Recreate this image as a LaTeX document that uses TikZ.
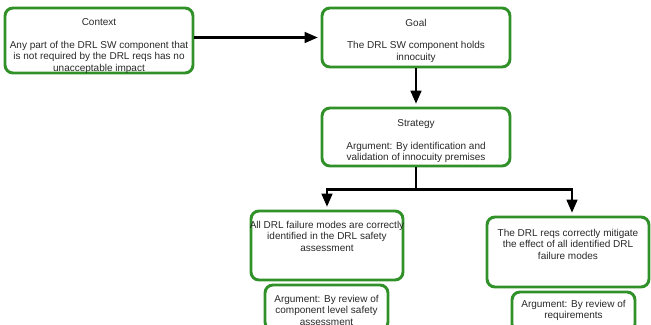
\documentclass[tikz,border=0pt]{standalone}
\usepackage{fontspec}
\setmainfont{Liberation Sans}
\usetikzlibrary{arrows.meta, positioning}
\definecolor{gsngreen}{RGB}{48,145,40}
\definecolor{gsntext}{RGB}{40,40,40}

\begin{document}
\begin{tikzpicture}[x=0.75pt, y=0.75pt,
  box/.style={draw=gsngreen, line width=2.2pt, rounded corners=6pt, inner sep=0pt},
  txt/.style={align=center, inner sep=0pt, text=gsntext, font=\fontsize{7.5}{8.5}\selectfont},
  arr/.style={draw, line width=2pt, -{Triangle[length=10pt, width=8pt]}, shorten >=2pt}]
  \useasboundingbox (0,0) rectangle (651,-325);
  % the boxes
  \node[box, minimum width=141pt, minimum height=48.75pt] (ctx) at (99,-40.5) {};
  \node[box, minimum width=141pt, minimum height=44.25pt] (goal) at (416,-37.5) {};
  \node[box, minimum width=141pt, minimum height=43.5pt] (strat) at (416,-137) {};
  \node[box, minimum width=114pt, minimum height=51.75pt] (fail) at (327,-245.5) {};
  \node[box, minimum width=121.5pt, minimum height=52.5pt] (mitig) at (568,-252) {};
  \node[box, minimum width=92.25pt, minimum height=33.75pt] (failarg) at (326.5,-307.5) {};
  \node[box, minimum width=92.25pt, minimum height=30pt] (mitigarg) at (573.5,-312) {};
  % the texts
  \node[txt, below=9pt of ctx.north] (ctxtxt) {Context\\[8.5pt]Any part of the DRL SW component that\\is not required by the DRL reqs has no\\unacceptable impact};
  \node[txt, below=9pt of goal.north] (goaltxt) {Goal\\[8.5pt]The DRL SW component holds\\innocuity};
  \node[txt, below=9.5pt of strat.north] (strattxt) {Strategy\\[8.5pt]Argument: By identification and\\validation of innocuity premises};
  \node[txt, below=8.5pt of fail.north] (failtxt) {All DRL failure modes are correctly\\identified in the DRL safety\\assessment};
  \node[txt, below=10pt of mitig.north] (mitigtxt) {The DRL reqs correctly mitigate\\the effect of all identified DRL\\failure modes};
  \node[txt, below=8.5pt of failarg.north] (failargtxt) {Argument: By review of\\component level safety\\assessment};
  \node[txt, below=7pt of mitigarg.north] (mitigargtxt) {Argument: By review of\\requirements};
  % the connectors
  \draw[arr] (ctx.east |- goal.west) -- (goal.west);
  \draw[arr] (goal) -- (strat);
  \coordinate (branch) at ([yshift=-16.5pt]strat.south);
  \draw[arr] (strat.south) -- (branch) -| (fail.north);
  \draw[arr] (branch) -| ([xshift=3pt]mitig.north);
\end{tikzpicture}
\end{document}
